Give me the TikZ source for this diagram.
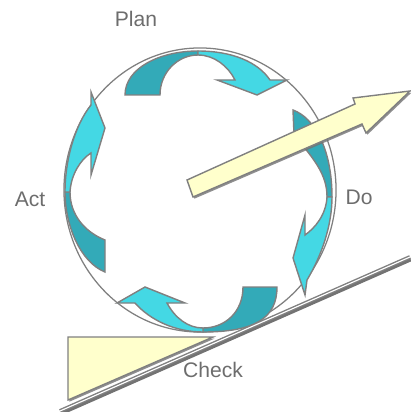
\documentclass[tikz,border=0pt]{standalone}
\usepackage{fontspec}
\setsansfont{Liberation Sans}
\usepackage{tikz}
\usetikzlibrary{shadows}
\definecolor{cyanlt}{RGB}{68,216,228}
\definecolor{cyandk}{RGB}{51,170,184}
\definecolor{pale}{RGB}{255,255,204}
\definecolor{rim}{RGB}{128,128,128}

\begin{document}
\begin{tikzpicture}[x=0.025cm, y=-0.025cm,
  ring/.style={draw=rim, line width=0.9pt},
  front/.style={draw=rim, line width=1pt, fill=cyanlt},
  back/.style={draw=rim, line width=1pt, fill=cyandk},
  pad/.style={draw=rim, line width=1pt, fill=pale,
    drop shadow={shadow xshift=1pt, shadow yshift=-1.2pt, fill=black!55, opacity=0.8}},
  ground/.style={draw=rim, double=white, double distance=0.8pt, line width=1pt},
  groundshade/.style={draw=black!55, line width=2.2pt, transform canvas={xshift=0.6pt, yshift=-2pt}},
  word/.style={font=\sffamily\fontsize{15}{18}\selectfont, text=rim!85!black, inner sep=0pt, anchor=base}]
  \useasboundingbox (0,0) rectangle (410,412);
  \draw[ring] (200,190) ellipse [x radius=3.4cm, y radius=3.55cm];
  % top
  \draw[back] (125,95) .. controls (125,68) and (160,51) .. (198,51)
    -- (198,55) .. controls (178,55) and (160,72) .. (160,95) -- cycle;
  \draw[front] (198,51) .. controls (232,51) and (258,62) .. (270,80) -- (287,80) -- (257,95)
    -- (217,80) -- (235,80) .. controls (228,66) and (214,55) .. (198,55) -- cycle;
  % right
  \draw[back] (293,110) .. controls (315,118) and (332,150) .. (332,197)
    -- (327,197) .. controls (327,175) and (315,160) .. (294,135) -- cycle;
  \draw[front] (332,197) .. controls (332,225) and (322,255) .. (307,280) -- (305,295) -- (293,258)
    -- (305,215) -- (305,235) .. controls (315,228) and (326,215) .. (327,197) -- cycle;
  % bottom
  \draw[back] (277,287) .. controls (277,318) and (255,332) .. (203,332)
    -- (203,328) .. controls (225,328) and (243,312) .. (243,287) -- cycle;
  \draw[front] (203,332) .. controls (175,332) and (150,320) .. (135,303) -- (117,303) -- (145,287)
    -- (185,303) -- (167,303) .. controls (175,318) and (188,328) .. (203,328) -- cycle;
  % left
  \draw[back] (105,272) .. controls (80,262) and (65,225) .. (65,192)
    -- (70,192) .. controls (70,215) and (85,232) .. (105,240) -- cycle;
  \draw[front] (65,192) .. controls (65,160) and (75,125) .. (91,105) -- (91,92) -- (105,128)
    -- (91,175) -- (91,153) .. controls (80,160) and (71,175) .. (70,192) -- cycle;
  % slope and chock
  \draw[pad] (68,337) -- (213,337) -- (68,400) -- cycle;
  \coordinate (foot) at (60,411);
  \coordinate (top) at (410,257);
  \draw[groundshade] (foot) -- (top);
  \draw[ground] (foot) -- (top);
  % progress arrow
  \draw[pad] (187,180) -- (355,104) -- (353,98) -- (410,91) -- (366,133) -- (362,124) -- (193,197) -- cycle;
  \node[word] (plan)  at (136,27)  {Plan};
  \node[word] (do)    at (359,204) {Do};
  \node[word] (check) at (213,377) {Check};
  \node[word] (act)   at (30,206)  {Act};
\end{tikzpicture}
\end{document}
